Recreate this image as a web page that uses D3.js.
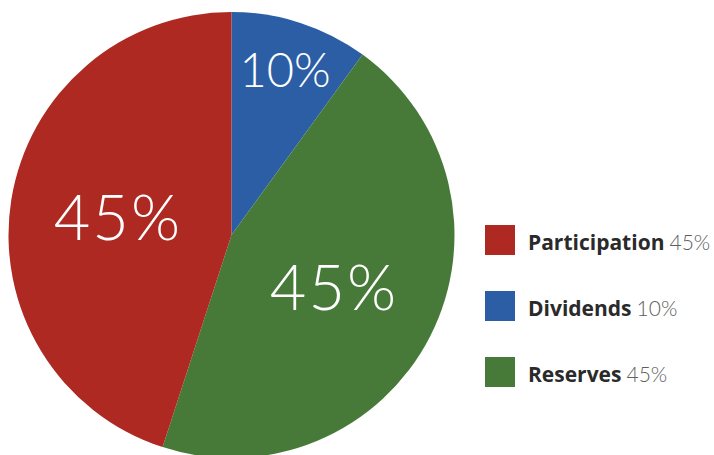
<!DOCTYPE html>
<html>
<head>
<meta charset="utf-8">
<script src="https://cdn.jsdelivr.net/npm/d3@7"></script>
<style>
  body { margin: 0; background: #fff; }
  svg { display: block; }
</style>
</head>
<body>
<div id="chart"></div>
<script>
var canvasWidth = 714;
var canvasHeight = 455;

/*Data in pie order, clockwise from 12 o'clock*/
var categories = ["Dividends", "Reserves", "Participation"];
var values = [10, 45, 45];
var colors = ["#2c5ea6", "#477a39", "#ad2922"];

/*Legend order*/
var legendOrder = ["Participation", "Dividends", "Reserves"];

var data = categories.map(function (c, i) { return {name: c, value: values[i], color: colors[i]}; });

var svg = d3.select("#chart").append("svg")
    .attr("width", canvasWidth)
    .attr("height", canvasHeight);

var cx = 231.5, cy = 235, radius = 223;

var pie = d3.pie().sort(null).value(function (d) { return d.value; });
var arc = d3.arc().innerRadius(0).outerRadius(radius);

var pie_g = svg.append("g")
    .attr("transform", "translate(" + cx + "," + cy + ")");

pie_g.selectAll("path")
    .data(pie(data))
    .join("path")
    .attr("d", arc)
    .attr("fill", function (d) { return d.data.color; });

/*Labels inside slices, small slice label pushed outwards*/
pie_g.selectAll("text")
    .data(pie(data))
    .join("text")
    .attr("transform", function (d) {
        var r = d.data.value < 20 ? 173 : 115;
        var a = (d.startAngle + d.endAngle) / 2;
        return "translate(" + (Math.sin(a) * r) + "," + (-Math.cos(a) * r) + ")";
    })
    .attr("text-anchor", "middle")
    .attr("dy", "0.36em")
    .attr("fill", "#fff")
    .attr("font-family", "Lato, 'Open Sans', sans-serif")
    .attr("font-weight", 300)
    .attr("letter-spacing", function (d) { return d.data.value < 20 ? 0 : 2; })
    .attr("font-size", function (d) { return d.data.value < 20 ? 47 : 63; })
    .text(function (d) { return d.data.value + "%"; });

/*Legend*/
var legend = svg.append("g")
    .attr("transform", "translate(485,225)");

var rows = legend.selectAll("g")
    .data(legendOrder.map(function (n) { return data.find(function (d) { return d.name === n; }); }))
    .join("g")
    .attr("transform", function (d, i) { return "translate(0," + (i * 66) + ")"; });

rows.append("rect")
    .attr("width", 30)
    .attr("height", 30)
    .attr("fill", function (d) { return d.color; });

var label = rows.append("text")
    .attr("x", 43)
    .attr("y", 25)
    .attr("font-family", "'Open Sans', sans-serif")
    .attr("font-size", 21);

label.append("tspan")
    .attr("font-weight", 700)
    .attr("fill", "#2a2a2a")
    .text(function (d) { return d.name; });

label.append("tspan")
    .attr("dx", 5)
    .attr("font-weight", 300)
    .attr("fill", "#5e5e5e")
    .attr("font-family", "Lato, 'Open Sans', sans-serif")
    .text(function (d) { return d.value + "%"; });
</script>
</body>
</html>
